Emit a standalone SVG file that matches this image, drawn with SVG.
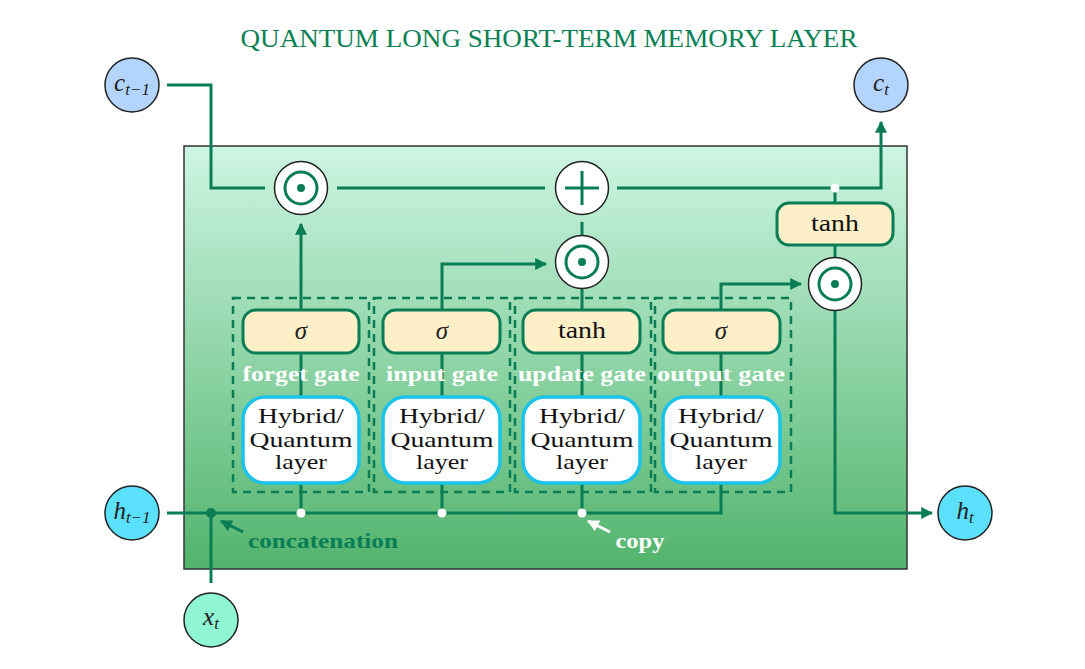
<svg xmlns="http://www.w3.org/2000/svg" width="1085" height="669" viewBox="0 0 1085 669">
<defs>
<linearGradient id="bg" x1="0" y1="0" x2="0" y2="1">
<stop offset="0" stop-color="#cdf5e3"/>
<stop offset="1" stop-color="#52b46c"/>
</linearGradient>
<marker id="ahg" viewBox="0 0 10 10" refX="9" refY="5" markerWidth="12" markerHeight="12" orient="auto" markerUnits="userSpaceOnUse">
<path d="M0,0 L10,5 L0,10 Z" fill="#0a7d55"/>
</marker>
<marker id="ahw" viewBox="0 0 10 10" refX="9" refY="5" markerWidth="12" markerHeight="12" orient="auto" markerUnits="userSpaceOnUse">
<path d="M0,0 L10,5 L0,10 Z" fill="#ffffff"/>
</marker>
</defs>
<style>
.ln{fill:none;stroke:#0a7d55;stroke-width:3}
.arr{fill:none;stroke:#0a7d55;stroke-width:3;marker-end:url(#ahg)}
.op{fill:#ffffff;stroke:#222;stroke-width:1.5}
.ring{fill:none;stroke:#0a7d55;stroke-width:3}
.dot{fill:#0a7d55}
.act{fill:#fdf0c8;stroke:#0a7d55;stroke-width:3}
.hyb{fill:#ffffff;stroke:#19c3ea;stroke-width:3.5}
.dash{fill:none;stroke:#0a7d55;stroke-width:2.5;stroke-dasharray:8,6}
.t{font-family:"Liberation Serif","DejaVu Serif",serif;fill:#111;text-anchor:middle}
.hq{font-family:"Liberation Serif","DejaVu Serif",serif;fill:#111;text-anchor:middle;font-size:24px}
.hb{font-family:"Liberation Serif","DejaVu Serif",serif;fill:#111;text-anchor:middle;font-size:21.5px}
.m{font-family:"Liberation Serif","DejaVu Serif",serif;font-style:italic;fill:#222;text-anchor:middle;font-size:25px}
.gl{font-family:"Liberation Serif","DejaVu Serif",serif;font-weight:bold;fill:#ffffff;text-anchor:middle;font-size:22px}
.io{stroke:#222;stroke-width:1.5}
</style>
<rect width="1085" height="669" fill="#ffffff"/>
<text x="549" y="47" class="t" style="fill:#0a8055;font-size:26px" textLength="617" lengthAdjust="spacingAndGlyphs">QUANTUM LONG SHORT-TERM MEMORY LAYER</text>

<g id="cell">
<rect x="184" y="146" width="723" height="423" fill="url(#bg)" stroke="#333" stroke-width="1.5"/>
</g>

<g id="connectors">
<polyline class="ln" points="167,85 211,85 211,188 265,188"/>
<line class="ln" x1="337" y1="188" x2="545" y2="188"/>
<polyline class="arr" points="617,188 881,188 881,122"/>
<line class="ln" x1="582" y1="222" x2="582" y2="236"/>
<line class="ln" x1="835" y1="245" x2="835" y2="257"/>
<line class="ln" x1="835" y1="203" x2="835" y2="190"/>
<line class="arr" x1="301" y1="310" x2="301" y2="224"/>
<polyline class="arr" points="442,310 442,264 546,264"/>
<line class="ln" x1="582" y1="310" x2="582" y2="289"/>
<polyline class="arr" points="721,310 721,284 801,284"/>
<polyline class="arr" points="835,310 835,513 932,513"/>
<line class="ln" x1="301" y1="353" x2="301" y2="397"/>
<line class="ln" x1="442" y1="353" x2="442" y2="397"/>
<line class="ln" x1="582" y1="353" x2="582" y2="397"/>
<line class="ln" x1="721" y1="353" x2="721" y2="397"/>
<line class="ln" x1="301" y1="483" x2="301" y2="513"/>
<line class="ln" x1="442" y1="483" x2="442" y2="513"/>
<line class="ln" x1="582" y1="483" x2="582" y2="513"/>
<polyline class="ln" points="167,513 721,513 721,483"/>
<line class="ln" x1="211" y1="513" x2="211" y2="583"/>
<circle cx="211" cy="513" r="5" class="dot"/>
<circle cx="301" cy="513" r="4.5" fill="#fff"/>
<circle cx="442" cy="513" r="4.5" fill="#fff"/>
<circle cx="582" cy="513" r="4.5" fill="#fff"/>
<circle cx="835" cy="188" r="4.5" fill="#fff"/>
<line x1="243" y1="532" x2="221" y2="521" stroke="#0a7d55" stroke-width="3" marker-end="url(#ahg)"/>
<line x1="610" y1="532" x2="588" y2="521" stroke="#ffffff" stroke-width="3" marker-end="url(#ahw)"/>
</g>

<g id="gate-boxes">
<rect x="233" y="298" width="136" height="194" class="dash"/>
<rect x="374" y="298" width="136" height="194" class="dash"/>
<rect x="515" y="298" width="136" height="194" class="dash"/>
<rect x="655" y="298" width="136" height="194" class="dash"/>
</g>

<g id="forget-gate">
<rect x="243" y="310" width="116" height="43" rx="13" class="act"/>
<text x="301" y="339" class="m">σ</text>
<text x="301" y="381" class="gl" textLength="117" lengthAdjust="spacingAndGlyphs">forget gate</text>
<rect x="243" y="397" width="116" height="86" rx="22" class="hyb"/>
<text class="hb"><tspan x="301" y="423" textLength="86" lengthAdjust="spacingAndGlyphs">Hybrid/</tspan><tspan x="301" y="447" textLength="103" lengthAdjust="spacingAndGlyphs">Quantum</tspan><tspan x="301" y="469" textLength="52" lengthAdjust="spacingAndGlyphs">layer</tspan></text>
</g>
<g id="input-gate">
<rect x="383" y="310" width="117" height="43" rx="13" class="act"/>
<text x="442" y="339" class="m">σ</text>
<text x="442" y="381" class="gl" textLength="112" lengthAdjust="spacingAndGlyphs">input gate</text>
<rect x="383" y="397" width="117" height="86" rx="22" class="hyb"/>
<text class="hb"><tspan x="442" y="423" textLength="86" lengthAdjust="spacingAndGlyphs">Hybrid/</tspan><tspan x="442" y="447" textLength="103" lengthAdjust="spacingAndGlyphs">Quantum</tspan><tspan x="442" y="469" textLength="52" lengthAdjust="spacingAndGlyphs">layer</tspan></text>
</g>
<g id="update-gate">
<rect x="523" y="310" width="117" height="43" rx="13" class="act"/>
<text x="582" y="338" class="hq" textLength="48" lengthAdjust="spacingAndGlyphs">tanh</text>
<text x="582" y="381" class="gl" textLength="128" lengthAdjust="spacingAndGlyphs">update gate</text>
<rect x="523" y="397" width="117" height="86" rx="22" class="hyb"/>
<text class="hb"><tspan x="582" y="423" textLength="86" lengthAdjust="spacingAndGlyphs">Hybrid/</tspan><tspan x="582" y="447" textLength="103" lengthAdjust="spacingAndGlyphs">Quantum</tspan><tspan x="582" y="469" textLength="52" lengthAdjust="spacingAndGlyphs">layer</tspan></text>
</g>
<g id="output-gate">
<rect x="663" y="310" width="117" height="43" rx="13" class="act"/>
<text x="721" y="339" class="m">σ</text>
<text x="721" y="381" class="gl" textLength="128" lengthAdjust="spacingAndGlyphs">output gate</text>
<rect x="663" y="397" width="117" height="86" rx="22" class="hyb"/>
<text class="hb"><tspan x="721" y="423" textLength="86" lengthAdjust="spacingAndGlyphs">Hybrid/</tspan><tspan x="721" y="447" textLength="103" lengthAdjust="spacingAndGlyphs">Quantum</tspan><tspan x="721" y="469" textLength="52" lengthAdjust="spacingAndGlyphs">layer</tspan></text>
</g>

<g id="tanh-out">
<rect x="777" y="203" width="116" height="42" rx="12" class="act"/>
<text x="835" y="231" class="hq" textLength="48" lengthAdjust="spacingAndGlyphs">tanh</text>
</g>

<g id="mul-forget">
<circle cx="301" cy="188" r="26.5" class="op"/>
<circle cx="301" cy="188" r="16" class="ring"/>
<circle cx="301" cy="188" r="4" class="dot"/>
</g>
<g id="add">
<circle cx="582" cy="188" r="26.5" class="op"/>
<line x1="565" y1="188" x2="599" y2="188" class="ln"/>
<line x1="582" y1="171" x2="582" y2="205" class="ln"/>
</g>
<g id="mul-input">
<circle cx="582" cy="262" r="26.5" class="op"/>
<circle cx="582" cy="262" r="16" class="ring"/>
<circle cx="582" cy="262" r="4" class="dot"/>
</g>
<g id="mul-output">
<circle cx="835" cy="284" r="26.5" class="op"/>
<circle cx="835" cy="284" r="16" class="ring"/>
<circle cx="835" cy="284" r="4" class="dot"/>
</g>

<g id="c-prev">
<circle cx="132" cy="85" r="27" fill="#b3d4fc" class="io"/>
<text x="132" y="91" class="m">c<tspan font-size="17" dy="4">t−1</tspan></text>
</g>
<g id="c-t">
<circle cx="881" cy="85" r="27" fill="#b3d4fc" class="io"/>
<text x="881" y="91" class="m">c<tspan font-size="17" dy="4">t</tspan></text>
</g>
<g id="h-prev">
<circle cx="132" cy="513" r="27" fill="#5ce1fc" class="io"/>
<text x="132" y="519" class="m">h<tspan font-size="17" dy="4">t−1</tspan></text>
</g>
<g id="h-t">
<circle cx="965" cy="513" r="27" fill="#5ce1fc" class="io"/>
<text x="965" y="519" class="m">h<tspan font-size="17" dy="4">t</tspan></text>
</g>
<g id="x-t">
<circle cx="211" cy="620" r="27" fill="#8ff5d2" class="io"/>
<text x="211" y="625" class="m">x<tspan font-size="17" dy="4">t</tspan></text>
</g>

<g id="annotations">
<text x="323" y="548" class="gl" style="fill:#0a7d55" textLength="150" lengthAdjust="spacingAndGlyphs">concatenation</text>
<text x="640" y="548" class="gl" textLength="49" lengthAdjust="spacingAndGlyphs">copy</text>
</g>
</svg>
